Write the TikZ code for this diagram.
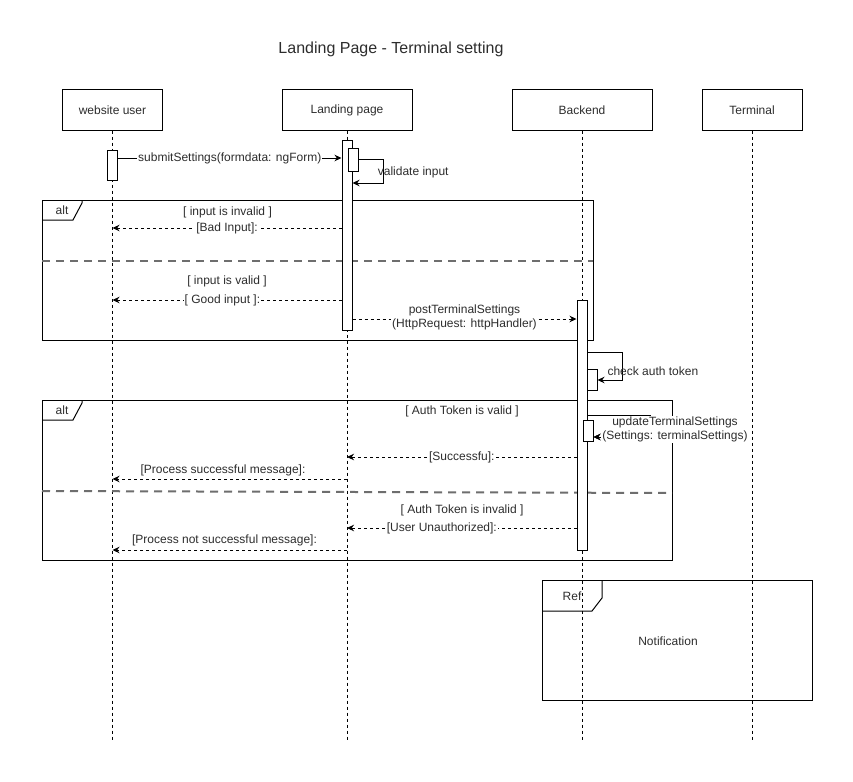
\documentclass[tikz,border=0pt]{standalone}
\usepackage{fontspec}
\setmainfont{Liberation Sans}
\usetikzlibrary{arrows.meta}
\definecolor{tc}{RGB}{45,45,45}
\definecolor{sepc}{RGB}{110,110,110}
\begin{document}
\begin{tikzpicture}[x=1pt,y=-1pt,line width=1pt,
  every node/.style={font=\fontsize{12}{14}\selectfont,text=tc},
  head/.style={draw=black,fill=white,minimum width=#1,minimum height=40pt,inner sep=0pt},
  act/.style={draw=black,fill=white,minimum width=10pt,minimum height=#1,inner sep=0pt},
  life/.style={draw=black,dash pattern=on 3pt off 3pt},
  tip/.style={-{Stealth[length=7pt,width=6.5pt]}},
  msg/.style={draw=black,tip},
  ret/.style={draw=black,tip,dash pattern=on 3pt off 3pt},
  lbl/.style={fill=white,inner sep=1pt,align=center},
  sep/.style={draw=sepc,line width=2pt,dash pattern=on 8pt off 6pt},
  frame/.style={draw=black}
]
\useasboundingbox (0,0) rectangle (853,781);
\fill[white] (0,0) rectangle (853,781);

% title
\node[font=\fontsize{16}{18}\selectfont] (title) at (391,49) {Landing Page - Terminal setting};

% heads
\node[head=100pt] (wu) at (112.5,110) {website user};
\node[head=130pt] (lp) at (347,110) {Landing page};
\node[head=140pt] (be) at (582,110) {Backend};
\node[head=100pt] (te) at (752,110) {Terminal};

% lifeline ends
\coordinate (wuE) at (112.5,740);
\coordinate (lpE) at (347,740);
\coordinate (beE) at (582,740);
\coordinate (teE) at (752,740);
\draw[life] (wu.south) -- (wuE);
\draw[life] (lp.south) -- (lpE);
\draw[life] (be.south) -- (beE);
\draw[life] (te.south) -- (teE);

% frames
\draw[frame] (42,200) rectangle (593,340);
\draw[frame] (42,220) -- (73,220) -- (82,203) -- (82,200);
\node (alt1) at (62,210) {alt};
\draw[sep] (42,261) -- (593,261);

\draw[frame] (42,400) rectangle (672,560);
\draw[frame] (42,420) -- (73,420) -- (82,403) -- (82,400);
\node (alt2) at (62,410) {alt};
\draw[sep] (42,491) -- (672,493);

\draw[frame] (542,580) rectangle (812,700);
\draw[frame] (542,611) -- (592,611) -- (602,598) -- (602,580);
\node (ref) at (572,596) {Ref};
\node (notif) at (668,641) {Notification};

% activations
\node[act=30pt] (aWU) at (112.5,165) {};
\node[act=190pt] (aLP) at (347,235) {};
\node[act=23pt] (aLPs) at (353,159.5) {};
\node[act=250pt] (aBE) at (582,425) {};
\node[act=21pt] (aBEs) at (592,379.5) {};
\node[act=21pt] (aBEu) at (588,430.5) {};

% guards
\node (g1) at (227.5,212) {[ input is invalid ]};
\node (g2) at (227,281) {[ input is valid ]};
\node (g3) at (462,411) {[ Auth Token is valid ]};
\node (g4) at (462,510) {[ Auth Token is invalid ]};

% messages
\draw[msg] (aWU.east |- 0,158) -- node[lbl] {submitSettings(formdata: ngForm)} (aLP.west |- 0,158);
\draw[msg] (aLPs.east |- 0,159) -- (383,159) -- (383,183) -- (aLP.east |- 0,183);
\node[anchor=west] (vi) at (374,172) {validate input};

\draw[ret] (aLP.west |- 0,228) -- node[lbl] {[Bad Input]:} (wu |- 0,228);
\draw[ret] (aLP.west |- 0,300) -- node[lbl,pos=0.52] {[ Good input ]:} (wu |- 0,300);

\draw[ret] (aLP.east |- 0,319) -- node[lbl,yshift=2pt] {postTerminalSettings\\(HttpRequest: httpHandler)} (aBE.west |- 0,319);

\draw[msg] (aBE.east |- 0,352) -- (622,352) -- (622,380) -- (aBEs.east |- 0,380);
\node[anchor=west,inner sep=1pt] (cat) at (606,371) {check auth token};

\draw[msg] (aBE.east |- 0,415) -- (650,415) -- (650,437) -- (aBEu.east |- 0,437);
\node[lbl] (uts) at (675,429.5) {updateTerminalSettings\\(Settings: terminalSettings)};
\draw[msg] (uts.west |- 0,437) -- (aBEu.east |- 0,437);

\draw[ret] (aBE.west |- 0,457) -- node[lbl] {[Successfu]:} (lp |- 0,457);
\draw[ret] (lp |- 0,479) -- (wu |- 0,479);
\node (psm) at (223,470) {[Process successful message]:};

\draw[ret] (aBE.west |- 0,528) -- node[lbl,pos=0.587] {[User Unauthorized]:} (lp |- 0,528);
\draw[ret] (lp |- 0,550) -- (wu |- 0,550);
\node (pnsm) at (224.5,540) {[Process not successful message]:};
\end{tikzpicture}
\end{document}
